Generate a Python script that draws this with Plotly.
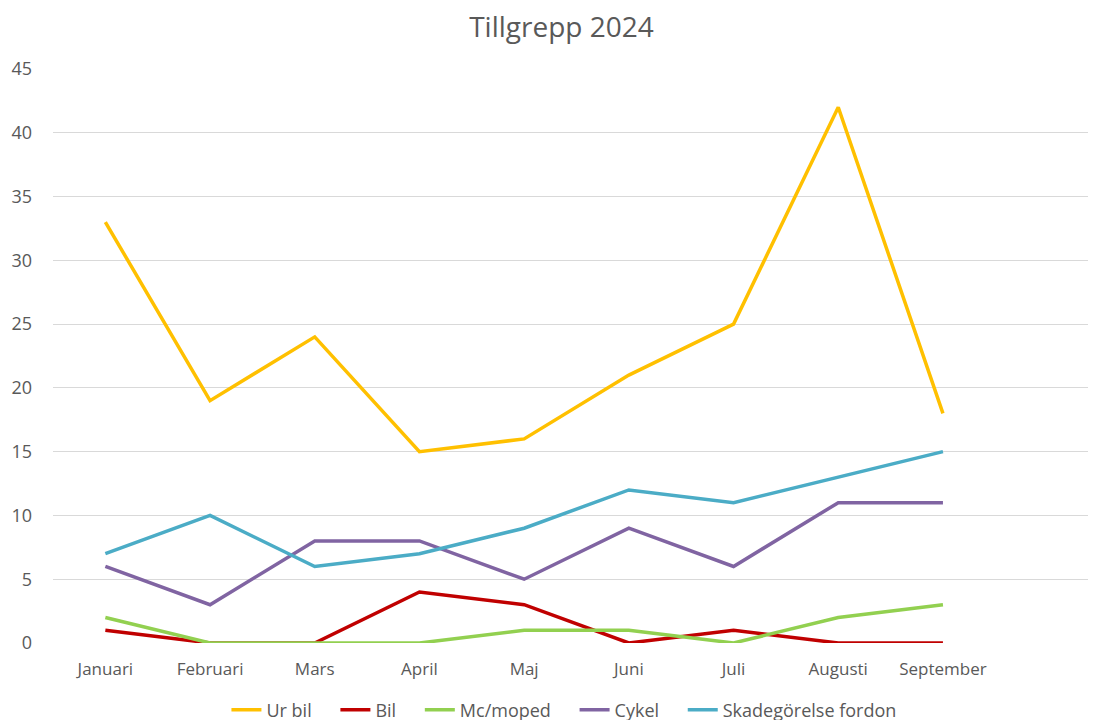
import plotly.graph_objects as go

months = ["Januari", "Februari", "Mars", "April", "Maj", "Juni", "Juli", "Augusti", "September"]
ur_bil = [33, 19, 24, 15, 16, 21, 25, 42, 18]
bil = [1, 0, 0, 4, 3, 0, 1, 0, 0]
mc_moped = [2, 0, 0, 0, 1, 1, 0, 2, 3]
cykel = [6, 3, 8, 8, 5, 9, 6, 11, 11]
skadegorelse = [7, 10, 6, 7, 9, 12, 11, 13, 15]

series = [
    ("Ur bil", ur_bil, "#FFC000"),
    ("Bil", bil, "#C00000"),
    ("Mc/moped", mc_moped, "#92D050"),
    ("Cykel", cykel, "#8064A2"),
    ("Skadegörelse fordon", skadegorelse, "#4BACC6"),
]

pad = "\u00a0" * 4
x_idx = list(range(len(months)))
fig = go.Figure()
for i, (name, vals, col) in enumerate(series):
    label = name + (pad if i < len(series) - 1 else "")
    fig.add_trace(go.Scatter(x=x_idx, y=vals, name=label, mode="lines",
                             line=dict(color=col, width=3.5)))

font = "Open Sans, Liberation Sans, sans-serif"
fig.update_layout(
    width=1096, height=720,
    paper_bgcolor="white", plot_bgcolor="white",
    margin=dict(l=45, r=4, t=61, b=85, autoexpand=False),
    title=dict(text="Tillgrepp 2024", x=0.505, xanchor="center", y=0.9735, yanchor="middle",
               font=dict(family=font, size=28, color="#595959")),
    font=dict(family=font, color="#595959"),
    xaxis=dict(range=[-0.5, 9.5], tickmode="array", tickvals=x_idx, ticktext=months,
               showgrid=False, zeroline=False, showline=False, ticks="",
               ticklabelstandoff=14, automargin=False,
               tickfont=dict(size=17, color="#595959")),
    yaxis=dict(range=[0, 45], dtick=5, showgrid=True, gridcolor="#D9D9D9", gridwidth=1,
               zeroline=False, showline=False, ticks="", ticklabelstandoff=20, automargin=False,
               tickfont=dict(size=18, color="#595959")),
    legend=dict(orientation="h", x=0.488, xanchor="center", yref="container", y=0.025,
                yanchor="middle",
                font=dict(size=18, color="#595959"), tracegroupgap=0),
    showlegend=True,
)
fig.write_html("out.html")
